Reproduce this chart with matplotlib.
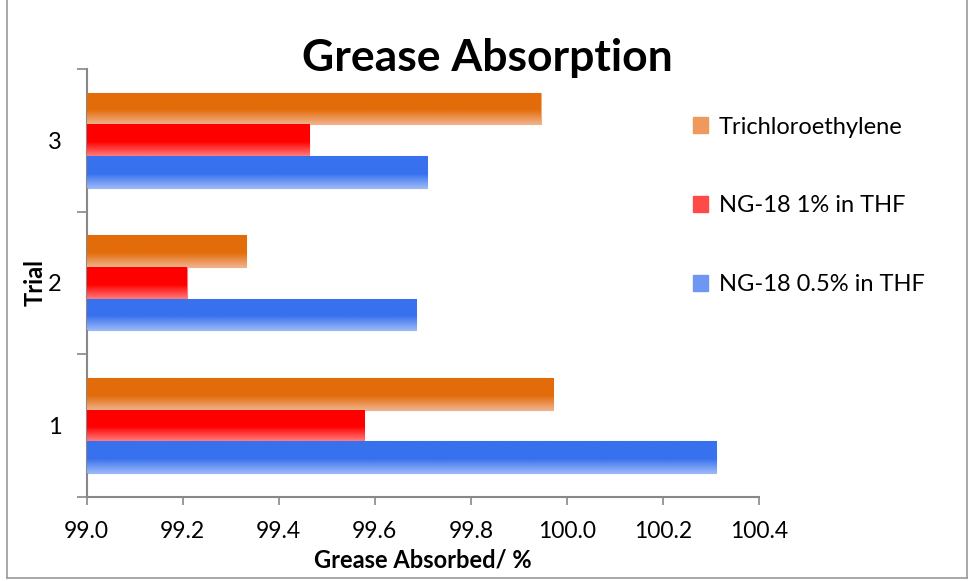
import numpy as np
import matplotlib
matplotlib.use("Agg")
import matplotlib.pyplot as plt
from matplotlib.colors import to_rgb
from matplotlib.patches import Patch
from matplotlib.lines import Line2D

plt.rcParams['font.family'] = ['Lato', 'DejaVu Sans']

trials = ["1", "2", "3"]
series = ["NG-18 0.5% in THF", "NG-18 1% in THF", "Trichloroethylene"]
ng18_half = [100.311, 99.686, 99.709]
ng18_one = [99.577, 99.208, 99.463]
trichloro = [99.971, 99.332, 99.945]
values = [ng18_half, ng18_one, trichloro]

base_cols = ["#3871EE", "#FF0000", "#E36C0A"]
top_cols = ["#98B6F8", "#FF7A7A", "#F0B088"]

x_start = 99.0
x_ticks = [99.0, 99.2, 99.4, 99.6, 99.8, 100.0, 100.2, 100.4]

fig = plt.figure(figsize=(9.69, 5.81), dpi=100)
ax = fig.add_axes([0.0895, 0.1446, 0.6938, 0.7367])

h = 0.222
y = np.arange(len(trials))


def gradient_bar(bar, c_top, c_base):
    x0, y0 = bar.get_x(), bar.get_y()
    w, hh = bar.get_width(), bar.get_height()
    t = np.linspace(0, 1, 60)
    # light at top, fading to the base colour over the upper ~40%
    f = np.clip(t / 0.45, 0, 1)
    top = np.array(to_rgb(c_top))
    base = np.array(to_rgb(c_base))
    img = top[None, :] * (1 - f[:, None]) + base[None, :] * f[:, None]
    img = img[:, None, :]
    im = ax.imshow(img, extent=[x0, x0 + w, y0 + hh, y0], aspect='auto',
                   origin='upper', zorder=3, interpolation='bilinear')
    im.set_clip_path(bar)


for i, vals in enumerate(values):
    bars = ax.barh(y + (i - 1) * h, np.array(vals) - x_start, height=h,
                   left=x_start, color=base_cols[i], edgecolor=top_cols[i],
                   linewidth=0.8, zorder=2)
    for b in bars:
        gradient_bar(b, top_cols[i], base_cols[i])

ax.set_xlim(99.0, 100.4)
ax.set_ylim(-0.5, 2.5)
ax.set_xticks(x_ticks)
ax.set_xticklabels([f"{v:.1f}" for v in x_ticks], fontsize=16.5)
ax.set_yticks(y)
ax.set_yticklabels(trials, fontsize=17)
ax.set_yticks([-0.5, 0.5, 1.5, 2.5], minor=True)

ax.tick_params(axis='y', which='major', length=0, pad=18)
ax.tick_params(axis='y', which='minor', length=7, width=1.2, color='#888888')
ax.tick_params(axis='x', which='major', length=6, width=1.2, color='#888888', pad=11)

for s in ['top', 'right']:
    ax.spines[s].set_visible(False)
for s in ['left', 'bottom']:
    ax.spines[s].set_color('#888888')
    ax.spines[s].set_linewidth(1.5)

ax.set_xlabel("Grease Absorbed/ %", fontsize=17, fontweight='bold', labelpad=5)
ax.set_ylabel("Trial", fontsize=17, fontweight='bold', labelpad=1)

fig.text(0.503, 0.90, "Grease Absorption", ha='center', va='center',
         fontsize=32, fontweight='bold')

handles = [Patch(facecolor=c, edgecolor=c) for c in ["#EE9A5C", "#FF4A4A", "#6E97F4"]]
fig.legend(handles, ["Trichloroethylene", "NG-18 1% in THF", "NG-18 0.5% in THF"],
           loc='upper left', bbox_to_anchor=(0.693, 0.836), frameon=False,
           fontsize=17, labelspacing=2.45, handlelength=0.65, handleheight=0.65,
           handletextpad=0.45)

# outer chart border
for xs, ys in [([0.0075, 0.0075], [1.0, 0.005]), ([0.998, 0.998], [1.0, 0.005]),
               ([0.0075, 0.998], [0.005, 0.005])]:
    fig.add_artist(Line2D(xs, ys, color='#9A9A9A', lw=1.2, transform=fig.transFigure))

fig.savefig("out.png", dpi=100)
